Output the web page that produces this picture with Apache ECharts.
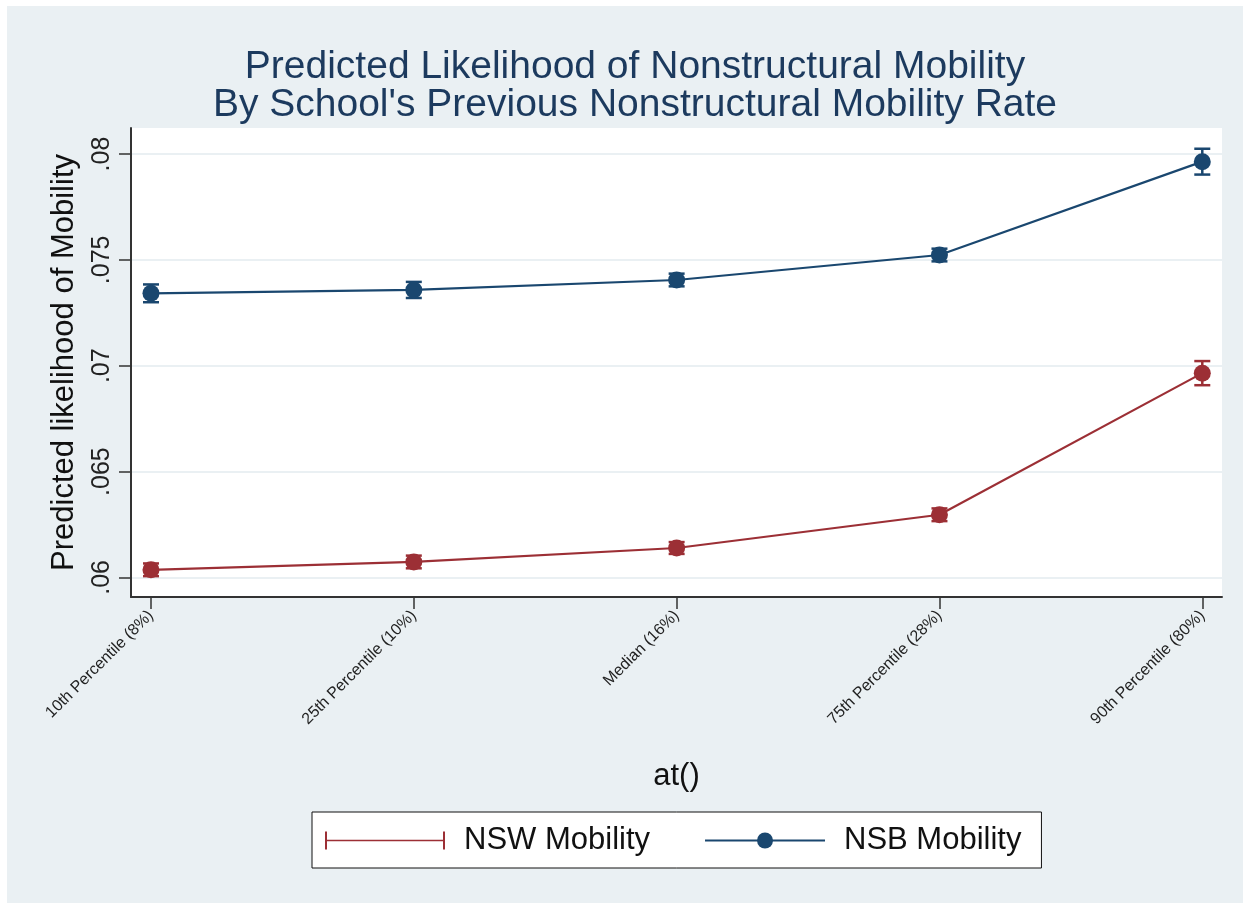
<!DOCTYPE html>
<html>
<head>
<meta charset="utf-8">
<title>Predicted Likelihood of Nonstructural Mobility</title>
<script src="https://cdn.jsdelivr.net/npm/echarts@6/dist/echarts.min.js"></script>
<style>
  html, body { margin: 0; padding: 0; background: #fff; }
  #main { width: 1250px; height: 909px; }
</style>
</head>
<body>
<div id="main"></div>
<script>
// categories along the x axis
const categories = [
  "10th Percentile (8%)",
  "25th Percentile (10%)",
  "Median (16%)",
  "75th Percentile (28%)",
  "90th Percentile (80%)"
];
// predicted values
const nswMean = [0.06036, 0.06073, 0.06139, 0.06296, 0.06965];
const nsbMean = [0.07342, 0.07358, 0.07405, 0.07523, 0.07964];
// half width of the confidence intervals
const nswCi = [0.0003, 0.0003, 0.00028, 0.0003, 0.00057];
const nsbCi = [0.00042, 0.00038, 0.0003, 0.0003, 0.00061];
// y tick labels
const yTicks = [0.06, 0.065, 0.07, 0.075, 0.08];
const yTickLabels = [".06", ".065", ".07", ".075", ".08"];

const NSW_COLOR = "#9c2f35";
const NSB_COLOR = "#1a476f";
const FONT = "Liberation Sans, Arial, sans-serif";

const chart = echarts.init(document.getElementById("main"));

// error bar (rcap) drawing
function capRender(color) {
  return function (params, api) {
    const x = api.value(0);
    const lo = api.coord([x, api.value(1)]);
    const hi = api.coord([x, api.value(2)]);
    const w = 8;
    const style = { stroke: color, lineWidth: 2.5 };
    return {
      type: "group",
      children: [
        { type: "line", shape: { x1: lo[0], y1: lo[1], x2: hi[0], y2: hi[1] }, style },
        { type: "line", shape: { x1: lo[0] - w, y1: lo[1], x2: lo[0] + w, y2: lo[1] }, style },
        { type: "line", shape: { x1: hi[0] - w, y1: hi[1], x2: hi[0] + w, y2: hi[1] }, style }
      ]
    };
  };
}

const idx = categories.map((c, i) => i);

chart.setOption({
  backgroundColor: "#fff",
  animation: false,
  textStyle: { fontFamily: FONT },
  graphic: [
    {
      type: "rect",
      z: -10,
      shape: { x: 7, y: 6, width: 1236, height: 897 },
      style: { fill: "#eaf0f3" },
      silent: true
    }
  ],
  title: {
    text: "Predicted Likelihood of Nonstructural Mobility\nBy School's Previous Nonstructural Mobility Rate",
    left: 630,
    top: 43,
    textAlign: "center",
    textStyle: {
      fontFamily: FONT,
      fontSize: 39,
      fontWeight: "normal",
      color: "#1c3a5e",
      lineHeight: 38
    }
  },
  legend: {
    left: 312,
    top: 812,
    orient: "horizontal",
    backgroundColor: "#fff",
    borderColor: "#111",
    borderWidth: 1,
    borderRadius: 0,
    padding: [13, 20, 12, 13],
    itemWidth: 120,
    itemHeight: 20,
    itemGap: 54,
    textStyle: { fontFamily: FONT, fontSize: 31, color: "#111", padding: [0, 0, 0, 14] },
    data: [
      {
        name: "NSW Mobility",
        icon: "path://M0,1 L2,1 L2,9.2 L118,9.2 L118,1 L120,1 L120,19 L118,19 L118,10.8 L2,10.8 L2,19 L0,19 Z"
      },
      { name: "NSB Mobility" }
    ]
  },
  grid: {
    left: 131,
    right: 28,
    top: 128,
    bottom: 312,
    show: true,
    backgroundColor: "#fff",
    borderWidth: 0
  },
  xAxis: {
    type: "value",
    min: -0.076,
    max: 4.075,
    name: "at()",
    nameLocation: "middle",
    nameGap: 164,
    nameTextStyle: { fontFamily: FONT, fontSize: 31, color: "#111" },
    axisLine: { show: true, onZero: false, lineStyle: { color: "#333", width: 2 } },
    axisTick: { show: true, customValues: idx, length: 12, lineStyle: { color: "#333", width: 1.5 } },
    splitLine: { show: false },
    axisLabel: {
      customValues: idx,
      rotate: 45,
      margin: 16,
      fontFamily: FONT,
      fontSize: 16,
      color: "#222",
      formatter: v => categories[Math.round(v)] || ""
    }
  },
  yAxis: {
    type: "value",
    min: 0.059075,
    max: 0.08123,
    name: "Predicted likelihood of Mobility",
    nameLocation: "middle",
    nameGap: 51,
    nameRotate: 90,
    nameTextStyle: { fontFamily: FONT, fontSize: 31, color: "#111" },
    axisLine: { show: true, onZero: false, lineStyle: { color: "#333", width: 2 } },
    axisTick: { show: true, customValues: yTicks, length: 12, lineStyle: { color: "#333", width: 1.5 } },
    splitLine: { show: true, lineStyle: { color: "#eaf0f3", width: 2 } },
    axisLabel: {
      customValues: yTicks,
      rotate: 90,
      margin: 16,
      fontFamily: FONT,
      fontSize: 25,
      color: "#222",
      formatter: v => {
        const k = yTicks.findIndex(t => Math.abs(t - v) < 1e-9);
        return k >= 0 ? yTickLabels[k] : "";
      }
    }
  },
  series: [
    {
      name: "NSW Mobility",
      type: "line",
      data: nswMean.map((v, i) => [i, v]),
      symbol: "circle",
      symbolSize: 17,
      color: NSW_COLOR,
      lineStyle: { color: NSW_COLOR, width: 2.2 },
      itemStyle: { color: NSW_COLOR },
      z: 3
    },
    {
      name: "NSW Mobility",
      type: "custom",
      renderItem: capRender(NSW_COLOR),
      data: nswMean.map((v, i) => [i, v - nswCi[i], v + nswCi[i]]),
      encode: { x: 0, y: [1, 2] },
      z: 2
    },
    {
      name: "NSB Mobility",
      type: "line",
      data: nsbMean.map((v, i) => [i, v]),
      symbol: "circle",
      symbolSize: 17,
      color: NSB_COLOR,
      lineStyle: { color: NSB_COLOR, width: 2.2 },
      itemStyle: { color: NSB_COLOR },
      z: 3
    },
    {
      name: "NSB Mobility",
      type: "custom",
      renderItem: capRender(NSB_COLOR),
      data: nsbMean.map((v, i) => [i, v - nsbCi[i], v + nsbCi[i]]),
      encode: { x: 0, y: [1, 2] },
      z: 2
    }
  ]
});
</script>
</body>
</html>
